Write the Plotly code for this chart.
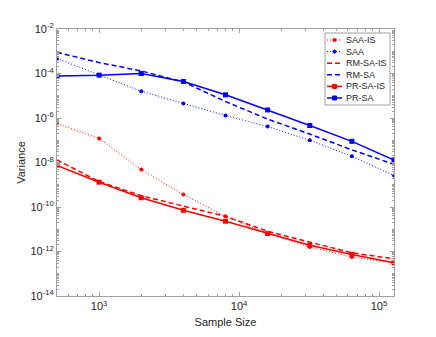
import numpy as np
import plotly.graph_objects as go

sample_size = [500, 1000, 2000, 4000, 8000, 16000, 32000, 64000, 128000]

saa_is = [5.6e-7, 1.2e-7, 4.8e-9, 3.6e-10, 3.8e-11, 6.4e-12, 1.6e-12, 5.6e-13, 3.1e-13]
saa = [4.7e-4, 8.7e-5, 1.6e-5, 4.5e-6, 1.3e-6, 4.1e-7, 1.0e-7, 1.9e-8, 2.6e-9]
rm_sa_is = [1.3e-8, 1.4e-9, 3.2e-10, 1.1e-10, 3.8e-11, 8.1e-12, 2.6e-12, 8.7e-13, 4.7e-13]
rm_sa = [8.9e-4, 3.1e-4, 1.3e-4, 4.2e-5, 5.5e-6, 8.9e-7, 1.9e-7, 3.7e-8, 8.3e-9]
pr_sa_is = [7.4e-9, 1.3e-9, 2.6e-10, 7.1e-11, 2.3e-11, 6.4e-12, 1.9e-12, 7.4e-13, 3.1e-13]
pr_sa = [7.8e-5, 8.4e-5, 1.0e-4, 4.4e-5, 1.1e-5, 2.3e-6, 4.6e-7, 8.9e-8, 1.3e-8]

RED = "#ff0000"
BLUE = "#0000ff"
FONT = "Liberation Sans, Arial"
TXT = "#262626"
FRAME = "#a0a0a0"
DASH = "5px,3px"
DOT = "1px,2px"

# name, values, colour, dash, width, marker symbol, marker size
series = [
    ("SAA-IS", saa_is, RED, DOT, 1, "circle", 4),
    ("SAA", saa, BLUE, DOT, 1, "circle", 4),
    ("RM-SA-IS", rm_sa_is, RED, DASH, 1.5, None, 0),
    ("RM-SA", rm_sa, BLUE, DASH, 1.5, None, 0),
    ("PR-SA-IS", pr_sa_is, RED, "solid", 1.5, "square", 5),
    ("PR-SA", pr_sa, BLUE, "solid", 1.5, "square", 5),
]

fig = go.Figure()

for name, vals, color, dash, width, symbol, msize in series:
    fig.add_trace(go.Scatter(
        x=sample_size, y=vals, name=name,
        mode="lines+markers" if symbol else "lines",
        line=dict(color=color, dash=dash, width=width),
        marker=dict(symbol=symbol or "circle", size=msize, color=color),
        showlegend=False,
    ))

# page body adds an 8px offset, so the plot box is placed relative to that
OFF = 8
L = dict(plot_l=57, plot_r=394, plot_t=29, plot_b=296)
pw = L["plot_r"] - L["plot_l"]
ph = L["plot_b"] - L["plot_t"]


def px_x(p):
    return (p - L["plot_l"]) / pw


def px_y(p):
    return (L["plot_b"] - p) / ph


# compact MATLAB-style legend drawn by hand (plotly's legend rows are too tall)
shapes = [dict(type="rect", xref="paper", yref="paper",
               x0=px_x(325), x1=px_x(390), y0=px_y(105), y1=px_y(33),
               line=dict(color=FRAME, width=1), fillcolor="white", layer="above")]
annotations = []
row_y0, row_step = 40, 11.6
for i, (name, vals, color, dash, width, symbol, msize) in enumerate(series):
    cy = row_y0 + i * row_step
    shapes.append(dict(type="line", xref="paper", yref="paper",
                       x0=px_x(327), x1=px_x(342), y0=px_y(cy), y1=px_y(cy),
                       line=dict(color=color, dash=dash, width=width), layer="above"))
    if symbol:
        r = 1.6 if symbol == "circle" else 2
        shapes.append(dict(type="circle" if symbol == "circle" else "rect",
                           xref="paper", yref="paper",
                           x0=px_x(334.5 - r), x1=px_x(334.5 + r),
                           y0=px_y(cy + r), y1=px_y(cy - r),
                           line=dict(color=color, width=1), fillcolor=color, layer="above"))
    annotations.append(dict(xref="paper", yref="paper", x=px_x(343.5), y=px_y(cy),
                            xanchor="left", yanchor="middle", showarrow=False,
                            text=name, font=dict(family=FONT, size=9, color=TXT)))

axis_common = dict(
    showgrid=False, zeroline=False, showline=True, linecolor=FRAME,
    linewidth=1, mirror="ticks", ticks="inside", tickcolor=FRAME,
    ticklen=4, tickfont=dict(family=FONT, size=11, color=TXT), automargin=False,
)

x_ticks = [1e3, 1e4, 1e5]
x_text = ["10<sup>3</sup>", "10<sup>4</sup>", "10<sup>5</sup>"]
y_ticks = [1e-14, 1e-12, 1e-10, 1e-8, 1e-6, 1e-4, 1e-2]
y_text = ["10<sup>-14</sup>", "10<sup>-12</sup>", "10<sup>-10</sup>", "10<sup>-8</sup>",
          "10<sup>-6</sup>", "10<sup>-4</sup>", "10<sup>-2</sup>"]

fig.update_xaxes(
    type="log", range=[np.log10(500), np.log10(128000)],
    tickvals=x_ticks, ticktext=x_text,
    minor=dict(ticks="inside", ticklen=2, tickcolor=FRAME, dtick="D1", showgrid=False),
    title=dict(text="Sample Size", font=dict(family=FONT, size=11, color=TXT), standoff=7),
    **axis_common,
)
fig.update_yaxes(
    type="log", range=[-14, -2],
    tickvals=y_ticks, ticktext=y_text,
    minor=dict(ticks="inside", ticklen=2, tickcolor=FRAME, dtick="D1", showgrid=False),
    title=dict(text="Variance", font=dict(family=FONT, size=11, color=TXT), standoff=2),
    **axis_common,
)

W, H = 436, 337
fig.update_layout(
    width=W, height=H,
    margin=dict(l=L["plot_l"] - OFF, r=W - L["plot_l"] + OFF - pw,
                t=L["plot_t"] - OFF, b=H - L["plot_t"] + OFF - ph),
    plot_bgcolor="white", paper_bgcolor="white",
    showlegend=False,
    shapes=shapes, annotations=annotations,
)

fig.write_html("out.html")
